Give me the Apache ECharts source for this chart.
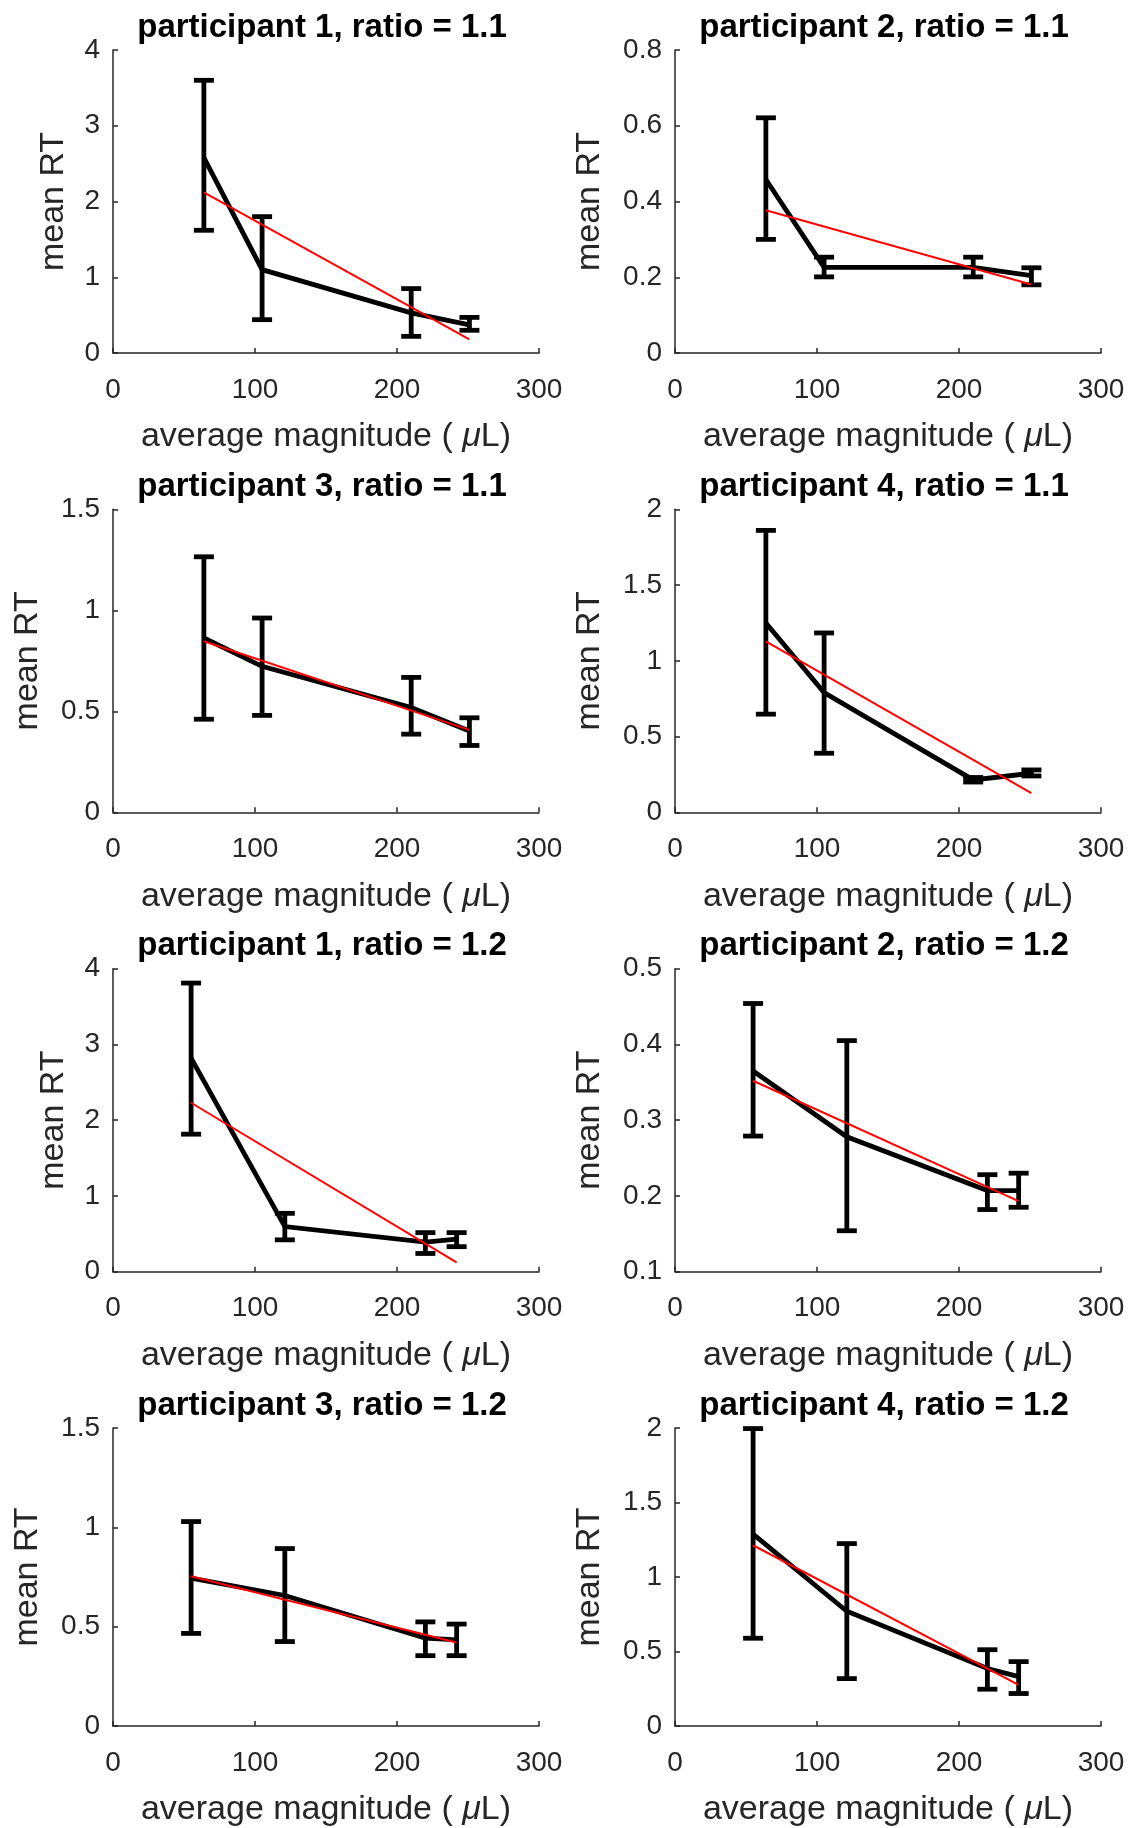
<!DOCTYPE html>
<html>
<head>
<meta charset="utf-8">
<script src="https://cdn.jsdelivr.net/npm/echarts@6/dist/echarts.min.js"></script>
<style>
html,body{margin:0;padding:0;background:#fff;}
#chart{width:1135px;height:1828px;}
</style>
</head>
<body>
<div id="chart"></div>
<script>
// ---- data ----
const titles = [
  'participant 1, ratio = 1.1', 'participant 2, ratio = 1.1',
  'participant 3, ratio = 1.1', 'participant 4, ratio = 1.1',
  'participant 1, ratio = 1.2', 'participant 2, ratio = 1.2',
  'participant 3, ratio = 1.2', 'participant 4, ratio = 1.2'
];
const xRatio11 = [64, 105, 210, 251];
const xRatio12 = [55, 121, 220, 242];

const p1r11Mean = [2.58, 1.10, 0.53, 0.37];
const p1r11Low  = [1.62, 0.44, 0.22, 0.30];
const p1r11High = [3.60, 1.80, 0.85, 0.47];
const p1r11Fit  = [2.12, 0.18];

const p2r11Mean = [0.458, 0.226, 0.226, 0.204];
const p2r11Low  = [0.300, 0.201, 0.201, 0.180];
const p2r11High = [0.621, 0.253, 0.253, 0.225];
const p2r11Fit  = [0.377, 0.181];

const p3r11Mean = [0.863, 0.723, 0.519, 0.403];
const p3r11Low  = [0.461, 0.480, 0.387, 0.331];
const p3r11High = [1.265, 0.962, 0.668, 0.468];
const p3r11Fit  = [0.847, 0.408];

const p4r11Mean = [1.25, 0.79, 0.214, 0.258];
const p4r11Low  = [0.648, 0.39, 0.200, 0.240];
const p4r11High = [1.861, 1.184, 0.230, 0.280];
const p4r11Fit  = [1.129, 0.126];

const p1r12Mean = [2.82, 0.595, 0.39, 0.43];
const p1r12Low  = [1.815, 0.42, 0.24, 0.33];
const p1r12High = [3.81, 0.77, 0.515, 0.515];
const p1r12Fit  = [2.23, 0.123];

const p2r12Mean = [0.365, 0.278, 0.207, 0.207];
const p2r12Low  = [0.279, 0.154, 0.182, 0.185];
const p2r12High = [0.454, 0.405, 0.228, 0.230];
const p2r12Fit  = [0.352, 0.193];

const p3r12Mean = [0.744, 0.657, 0.442, 0.433];
const p3r12Low  = [0.466, 0.425, 0.354, 0.354];
const p3r12High = [1.029, 0.893, 0.524, 0.513];
const p3r12Fit  = [0.754, 0.420];

const p4r12Mean = [1.288, 0.77, 0.386, 0.331];
const p4r12Low  = [0.589, 0.318, 0.247, 0.218];
const p4r12High = [1.996, 1.224, 0.512, 0.432];
const p4r12Fit  = [1.213, 0.276];

// axis tick specs
const xTickMin = 0, xTickMax = 300, xTickStep = 100;
const yMins = [0, 0, 0, 0, 0, 0.1, 0, 0];
const yMaxs = [4, 0.8, 1.5, 2, 4, 0.5, 1.5, 2];
const ySteps = [1, 0.2, 0.5, 0.5, 1, 0.1, 0.5, 0.5];
const xLabelParts = ['average magnitude ( ', 'μ', 'L)'];
const yLabel = 'mean RT';

// ---- build ----
const panelX = [xRatio11, xRatio11, xRatio11, xRatio11, xRatio12, xRatio12, xRatio12, xRatio12];
const panelMean = [p1r11Mean, p2r11Mean, p3r11Mean, p4r11Mean, p1r12Mean, p2r12Mean, p3r12Mean, p4r12Mean];
const panelLow = [p1r11Low, p2r11Low, p3r11Low, p4r11Low, p1r12Low, p2r12Low, p3r12Low, p4r12Low];
const panelHigh = [p1r11High, p2r11High, p3r11High, p4r11High, p1r12High, p2r12High, p3r12High, p4r12High];
const panelFit = [p1r11Fit, p2r11Fit, p3r11Fit, p4r11Fit, p1r12Fit, p2r12Fit, p3r12Fit, p4r12Fit];

const colLeft = [113, 675];
const rowTop0 = 50, rowStep = 459.33, gridW = 426, gridH = 303;
const AX = '#262626';
const FONT = '"Liberation Sans", Arial, Helvetica, sans-serif';
const NAME_FS = 34;

const grid = [], xAxis = [], yAxis = [], series = [], title = [];
for (let i = 0; i < 8; i++) {
  const col = i % 2, row = Math.floor(i / 2);
  const left = colLeft[col], top = rowTop0 + row * rowStep;
  grid.push({left: left, top: top, width: gridW, height: gridH, containLabel: false});
  title.push({
    text: titles[i], left: left + gridW / 2 - 9, top: top - 44, textAlign: 'center',
    textStyle: {fontFamily: FONT, fontWeight: 'bold', fontSize: 33, color: '#000'}
  });
  xAxis.push({
    type: 'value', gridIndex: i, min: xTickMin, max: xTickMax, interval: xTickStep,
    name: '{n|' + xLabelParts[0] + '}{i|' + xLabelParts[1] + '}{n|' + xLabelParts[2] + '}',
    nameLocation: 'middle', nameGap: 67,
    nameTextStyle: {
      fontFamily: FONT, fontSize: NAME_FS, color: AX,
      rich: {
        n: {fontFamily: FONT, fontSize: NAME_FS, color: AX},
        i: {fontFamily: FONT, fontSize: NAME_FS, color: AX, fontStyle: 'italic'}
      }
    },
    axisLine: {show: true, onZero: false, lineStyle: {color: AX, width: 1.5}},
    axisTick: {show: true, inside: true, length: 5, lineStyle: {color: AX, width: 1.5}},
    axisLabel: {fontFamily: FONT, fontSize: 28, color: AX, margin: 23},
    splitLine: {show: false}
  });
  const intOnly = (i === 0 || i === 4);
  yAxis.push({
    type: 'value', gridIndex: i, min: yMins[i], max: yMaxs[i], interval: ySteps[i],
    name: yLabel, nameLocation: 'middle', nameGap: intOnly ? 42 : 68,
    nameTextStyle: {fontFamily: FONT, fontSize: NAME_FS, color: AX},
    axisLine: {show: true, onZero: false, lineStyle: {color: AX, width: 1.5}},
    axisTick: {show: true, inside: true, length: 5, lineStyle: {color: AX, width: 1.5}},
    axisLabel: {fontFamily: FONT, fontSize: 28, color: AX, margin: 13},
    splitLine: {show: false}
  });
  const xs = panelX[i];
  // error bars
  series.push({
    type: 'custom', xAxisIndex: i, yAxisIndex: i, silent: true,
    data: xs.map((x, k) => [x, panelLow[i][k], panelHigh[i][k]]),
    encode: {x: 0, y: [1, 2]},
    renderItem: function (params, api) {
      const lo = api.coord([api.value(0), api.value(1)]);
      const hi = api.coord([api.value(0), api.value(2)]);
      const hw = 10;
      const st = {stroke: '#000', lineWidth: 4.8, lineCap: 'butt'};
      return {type: 'group', children: [
        {type: 'line', shape: {x1: lo[0], y1: lo[1], x2: hi[0], y2: hi[1]}, style: st},
        {type: 'line', shape: {x1: lo[0] - hw, y1: lo[1], x2: lo[0] + hw, y2: lo[1]}, style: st},
        {type: 'line', shape: {x1: hi[0] - hw, y1: hi[1], x2: hi[0] + hw, y2: hi[1]}, style: st}
      ]};
    },
    z: 2
  });
  // mean line
  series.push({
    type: 'line', xAxisIndex: i, yAxisIndex: i, silent: true,
    data: xs.map((x, k) => [x, panelMean[i][k]]),
    showSymbol: false, symbol: 'none',
    lineStyle: {color: '#000', width: 4.8, join: 'miter'},
    z: 3
  });
  // linear fit
  series.push({
    type: 'line', xAxisIndex: i, yAxisIndex: i, silent: true,
    data: [[xs[0], panelFit[i][0]], [xs[xs.length - 1], panelFit[i][1]]],
    showSymbol: false, symbol: 'none',
    lineStyle: {color: '#ff0000', width: 2},
    z: 4
  });
}

const chart = echarts.init(document.getElementById('chart'), null, {renderer: 'canvas'});
chart.setOption({
  animation: false,
  backgroundColor: '#fff',
  title: title, grid: grid, xAxis: xAxis, yAxis: yAxis, series: series
});
</script>
</body>
</html>
